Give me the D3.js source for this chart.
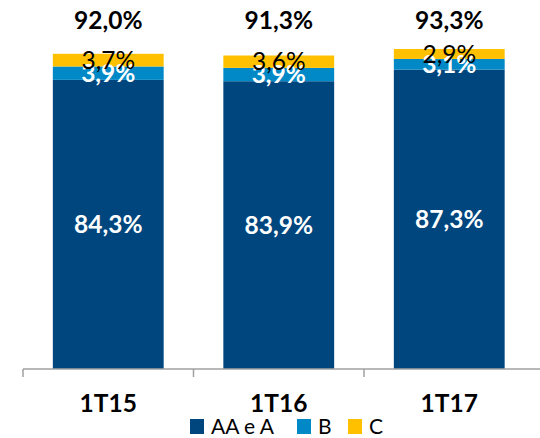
<!DOCTYPE html>
<html>
<head>
<meta charset="utf-8">
<script src="https://cdn.jsdelivr.net/npm/d3@7"></script>
<style>
  body { margin: 0; background: #fff; }
  text { font-family: "Lato", "Open Sans", sans-serif; }
</style>
</head>
<body>
<div id="chart"></div>
<script>
// Data
const categories = ["1T15", "1T16", "1T17"];
const seriesNames = ["AA e A", "B", "C"];
const valuesAA = [84.3, 83.9, 87.3];
const valuesB = [3.9, 3.9, 3.1];
const valuesC = [3.7, 3.6, 2.9];
const totals = [92.0, 91.3, 93.3];

const colors = { "AA e A": "#00467e", "B": "#0089c6", "C": "#ffc000" };
const labelColors = { "AA e A": "#fff", "B": "#fff", "C": "#000" };
const labelWeights = { "AA e A": "bold", "B": "bold", "C": "normal" };

const width = 540, height = 438;
const fmt = v => d3.format(".1f")(v).replace(".", ",") + "%";

const svg = d3.select("#chart")
  .append("svg")
  .attr("width", width)
  .attr("height", height);

const rows = categories.map((c, i) => ({
  cat: c, "AA e A": valuesAA[i], "B": valuesB[i], "C": valuesC[i], total: totals[i]
}));

const x = d3.scaleBand()
  .domain(categories)
  .range([23, 23 + 3 * 170.5])
  .paddingInner(0.35)
  .paddingOuter(0.175);

const y = d3.scaleLinear()
  .domain([0, 100])
  .range([369, 26]);

const stacked = d3.stack().keys(seriesNames)(rows);

const layer = svg.selectAll("g.layer")
  .data(stacked)
  .enter().append("g")
  .attr("class", "layer")
  .attr("fill", d => colors[d.key]);

layer.selectAll("rect")
  .data(d => d)
  .enter().append("rect")
  .attr("x", d => x(d.data.cat))
  .attr("y", d => y(d[1]))
  .attr("width", x.bandwidth())
  .attr("height", d => y(d[0]) - y(d[1]));

// segment labels
stacked.forEach(function(s) {
  svg.selectAll(null)
    .data(s)
    .enter().append("text")
    .attr("x", d => x(d.data.cat) + x.bandwidth() / 2)
    .attr("y", d => (y(d[0]) + y(d[1])) / 2)
    .attr("dy", "0.36em")
    .attr("text-anchor", "middle")
    .attr("font-size", "24.5px")
    .attr("font-weight", labelWeights[s.key])
    .attr("fill", labelColors[s.key])
    .text(d => fmt(d.data[s.key]));
});

// totals on top
svg.selectAll("text.total")
  .data(rows)
  .enter().append("text")
  .attr("class", "total")
  .attr("x", d => x(d.cat) + x.bandwidth() / 2)
  .attr("y", 20)
  .attr("dy", "0.36em")
  .attr("text-anchor", "middle")
  .attr("font-size", "24.5px")
  .attr("font-weight", "bold")
  .attr("fill", "#000")
  .text(d => fmt(d.total));

// x axis: baseline with ticks at category boundaries
const axisY = y(0);
svg.append("line")
  .attr("x1", 23).attr("x2", width)
  .attr("y1", axisY).attr("y2", axisY)
  .attr("stroke", "#a0a0a0").attr("stroke-width", 1.5);

svg.selectAll("line.tick")
  .data(categories)
  .enter().append("line")
  .attr("class", "tick")
  .attr("x1", d => x(d) - x.step() * x.paddingOuter())
  .attr("x2", d => x(d) - x.step() * x.paddingOuter())
  .attr("y1", axisY).attr("y2", axisY + 8)
  .attr("stroke", "#a0a0a0").attr("stroke-width", 1.5);

svg.selectAll("text.cat")
  .data(categories)
  .enter().append("text")
  .attr("class", "cat")
  .attr("x", d => x(d) + x.bandwidth() / 2)
  .attr("y", 403)
  .attr("dy", "0.36em")
  .attr("text-anchor", "middle")
  .attr("font-size", "24.5px")
  .attr("font-weight", "bold")
  .attr("fill", "#000")
  .text(d => d);

// legend
const legendX = [190, 297, 348];
const legend = svg.selectAll("g.legend")
  .data(seriesNames)
  .enter().append("g")
  .attr("class", "legend")
  .attr("transform", (d, i) => "translate(" + legendX[i] + ",419)");

legend.append("rect")
  .attr("width", 14).attr("height", 15)
  .attr("fill", d => colors[d]);

legend.append("text")
  .attr("x", 21)
  .attr("y", 7.5)
  .attr("dy", "0.36em")
  .attr("font-size", "21px")
  .attr("fill", "#000")
  .text(d => d);
</script>
</body>
</html>
